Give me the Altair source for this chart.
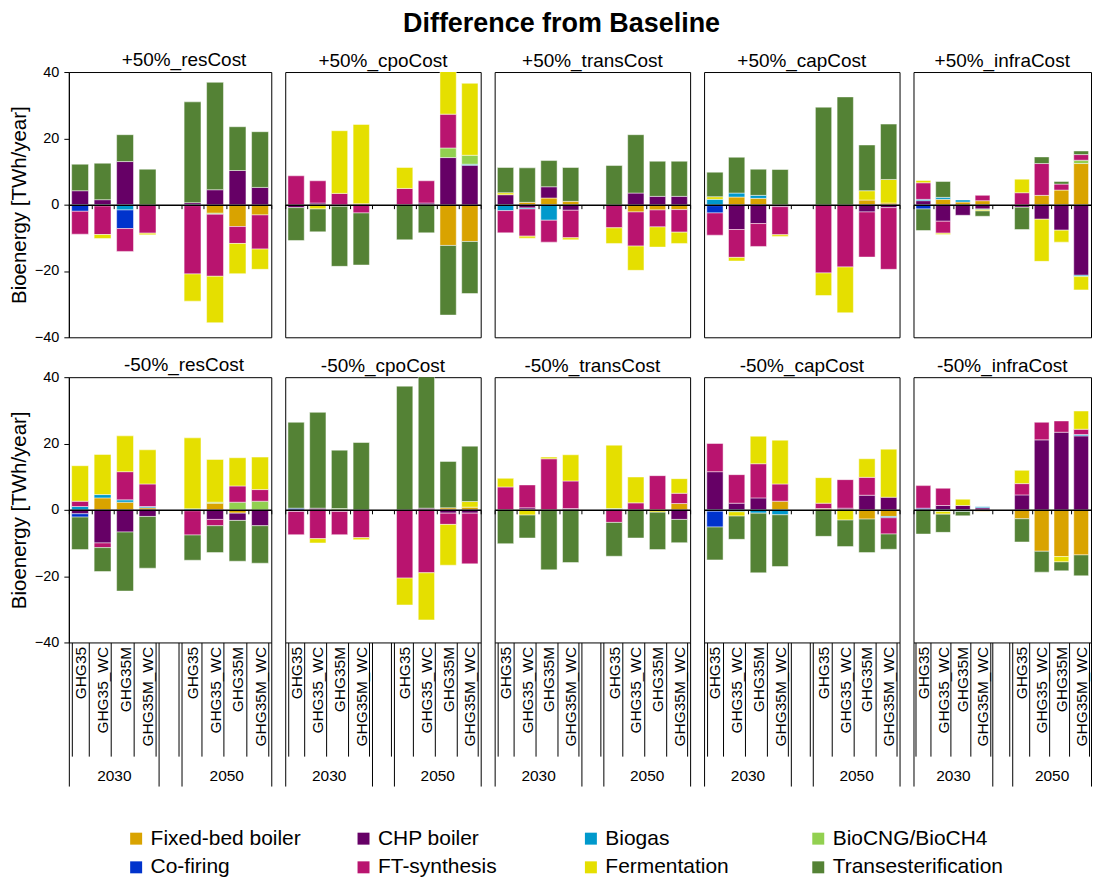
import altair as alt
import pandas as pd

FONT = "Liberation Sans"

# legend order (row-wise, 4 columns)
TECHS = ["Fixed-bed boiler", "CHP boiler", "Biogas", "BioCNG/BioCH4",
         "Co-firing", "FT-synthesis", "Fermentation", "Transesterification"]
COLORS = ["#D9A300", "#660066", "#0099CC", "#92D050",
          "#0033CC", "#B9146F", "#E5DF00", "#548235"]
# stacking order, from the zero line outwards
STACK = ["Fixed-bed boiler", "CHP boiler", "Biogas", "Co-firing",
         "BioCNG/BioCH4", "FT-synthesis", "Fermentation", "Transesterification"]

SCENARIOS = ["GHG35", "GHG35_WC", "GHG35M", "GHG35M_WC"]
YEARS = ["2030", "2050"]
SLOTS = [f"2030|{s}" for s in SCENARIOS] + ["gap"] + [f"2050|{s}" for s in SCENARIOS]
BAR_SLOTS = [s for s in SLOTS if s != "gap"]

PANEL_NAMES = ["+50%_resCost", "+50%_cpoCost", "+50%_transCost", "+50%_capCost", "+50%_infraCost",
               "-50%_resCost", "-50%_cpoCost", "-50%_transCost", "-50%_capCost", "-50%_infraCost"]

# values per technology, 8 bars: 2030 x4 scenarios, 2050 x4 scenarios  [TWh/year]
p50_resCost = {
    "Fixed-bed boiler":    [0, 0, 0, 0, 0, -2.6, -6.6, -3.1],
    "CHP boiler":          [4.2, 1.5, 13.0, 0, 0.6, 4.5, 10.3, 5.2],
    "Biogas":              [0, -0.4, -1.6, 0, -0.3, 0, 0, 0],
    "Co-firing":           [-2.0, 0, -5.6, 0, 0, 0, 0, 0],
    "BioCNG/BioCH4":       [0, 0, 0, 0, 0, -0.3, 0, 0],
    "FT-synthesis":        [-6.9, -8.6, -6.9, -8.6, -20.6, -18.7, -5.1, -10.3],
    "Fermentation":        [0, -1.2, 0, -0.5, -8.2, -14.0, -9.1, -6.1],
    "Transesterification": [8.0, 11.0, 8.1, 10.7, 30.4, 32.4, 13.2, 16.8],
}
p50_cpoCost = {
    "Fixed-bed boiler":    [0, 0, 0, 0, 0, 0, -12.3, -11.1],
    "CHP boiler":          [-0.9, 0.5, -0.5, 0.3, 0, 0.5, 14.2, 11.9],
    "Biogas":              [0, 0, 0, 0, 0, 0, 0, 0.3],
    "Co-firing":           [0, 0, 0, 0, 0, 0, 0, 0],
    "BioCNG/BioCH4":       [0, 0, 0, 0, 0, 0, 2.9, 2.7],
    "FT-synthesis":        [8.7, 6.7, 3.4, -2.5, 4.9, 6.7, 10.2, 0],
    "Fermentation":        [0, -1.3, 18.9, 23.9, 6.3, 0, 15.0, 21.7],
    "Transesterification": [-9.9, -6.9, -18.1, -15.7, -10.6, -8.5, -21.0, -15.7],
}
p50_transCost = {
    "Fixed-bed boiler":    [0, 0.7, 2.0, 1.0, 0, -2.2, -1.6, -1.5],
    "CHP boiler":          [3.0, -1.0, 3.4, -1.7, 0, 3.5, 2.5, 2.5],
    "Biogas":              [-1.8, -0.3, -4.7, 0, 0, 0, 0, 0],
    "Co-firing":           [0, 0, 0, 0, 0, 0, 0, 0],
    "BioCNG/BioCH4":       [0, 0, 0, 0, 0, 0, 0, 0],
    "FT-synthesis":        [-6.7, -8.2, -6.6, -8.3, -7.0, -10.3, -5.1, -6.8],
    "Fermentation":        [0.6, -0.6, 0, -0.6, -4.7, -7.3, -6.1, -3.4],
    "Transesterification": [7.6, 10.4, 7.9, 10.2, 11.8, 17.6, 10.6, 10.6],
}
p50_capCost = {
    "Fixed-bed boiler":    [0, 2.3, 1.9, 0, 0, 0, 1.4, 0.5],
    "CHP boiler":          [-0.3, -7.5, -5.7, -0.6, 0, 0, -2.2, -0.9],
    "Biogas":              [1.6, 1.2, 0.9, 0, 0, 0, 0, 0],
    "Co-firing":           [-2.2, 0, 0, 0, 0, 0, 0, 0],
    "BioCNG/BioCH4":       [0, 0, 0, 0, 0, 0, 0, 0],
    "FT-synthesis":        [-6.7, -8.4, -6.9, -8.5, -20.6, -18.8, -13.6, -18.6],
    "Fermentation":        [0.8, -1.1, 0, -0.5, -6.8, -13.8, 2.8, 7.1],
    "Transesterification": [7.4, 10.8, 7.9, 10.6, 29.4, 32.5, 13.8, 16.7],
}
p50_infraCost = {
    "Fixed-bed boiler":    [0, 1.6, 0.8, 1.2, 0, 2.8, 4.4, 12.4],
    "CHP boiler":          [1.2, -5.0, -3.2, -1.3, -0.8, -4.4, -7.7, -21.3],
    "Biogas":              [0.4, 0.6, 0.6, 0, 0, 0, 0, -0.4],
    "Co-firing":           [-1.3, 0, 0, 0, 0, 0, 0, 0],
    "BioCNG/BioCH4":       [0, 0, 0, -0.3, 0, 0, 0, 1.0],
    "FT-synthesis":        [5.0, -3.6, 0, 1.6, 3.6, 9.6, 1.8, 1.7],
    "Fermentation":        [0.7, -0.4, 0, -0.3, 4.1, -12.7, -3.6, -4.0],
    "Transesterification": [-6.5, 4.8, 0, -1.6, -6.7, 2.0, 0.8, 1.1],
}
m50_resCost = {
    "Fixed-bed boiler":    [0, 3.6, 2.3, 0.6, 0, 2.0, -1.0, 0],
    "CHP boiler":          [-1.2, -10.0, -6.7, -2.0, -0.3, -2.9, -2.2, -4.8],
    "Biogas":              [1.0, 1.0, 0.7, 0.4, 0.3, 0, 0, 0],
    "Co-firing":           [-1.0, 0, 0, 0, 0, 0, 0, 0],
    "BioCNG/BioCH4":       [0, 0, 0, 0, 0, 0.3, 2.3, 2.6],
    "FT-synthesis":        [1.6, -1.4, 8.5, 6.8, -7.3, -1.9, 4.9, 3.5],
    "Fermentation":        [10.7, 12.1, 10.8, 10.3, 21.4, 12.9, 8.5, 9.8],
    "Transesterification": [-9.8, -7.2, -17.8, -15.6, -7.6, -8.1, -12.3, -11.3],
}
m50_cpoCost = {
    "Fixed-bed boiler":    [0, 0, 0, 0, 0, 0, 0.6, 0.8],
    "CHP boiler":          [-0.5, 0.5, -0.5, 0, 0, 0.5, -1.0, -1.0],
    "Biogas":              [0, 0, 0, 0, 0, 0, 0, 0],
    "Co-firing":           [0.5, 0, 0, 0, 0, 0, 0, 0],
    "BioCNG/BioCH4":       [0, 0, 0.4, 0, 0, 0, 0, 0],
    "FT-synthesis":        [-7.0, -8.7, -7.0, -8.4, -20.6, -19.0, -3.4, -15.3],
    "Fermentation":        [0, -1.3, 0, -0.6, -8.1, -14.2, -12.3, 1.7],
    "Transesterification": [25.9, 28.9, 17.6, 20.3, 37.3, 41.0, 14.0, 16.7],
}
m50_transCost = {
    "Fixed-bed boiler":    [0, 0, 0, 0, 0, 0, 0, 1.9],
    "CHP boiler":          [0, 0.6, 0, 0.4, 0, 0, 0, -2.9],
    "Biogas":              [0, 0, 0, 0, 0.4, 0, 0, 0],
    "Co-firing":           [0, 0, 0, 0, 0, 0, 0, 0],
    "BioCNG/BioCH4":       [0, 0, 0, 0, 0, 0, 0, 0],
    "FT-synthesis":        [6.9, 6.9, 15.4, 8.3, -3.8, 2.1, 10.3, 3.1],
    "Fermentation":        [2.6, -1.6, 0.5, 7.9, 19.1, 7.8, -0.7, 4.4],
    "Transesterification": [-10.2, -6.9, -18.1, -15.9, -10.2, -8.5, -11.3, -7.0],
}
m50_capCost = {
    "Fixed-bed boiler":    [0, 0, 0, 2.6, 0.4, 0, -2.8, -2.0],
    "CHP boiler":          [11.5, 2.0, 3.6, 0, 0, 0.5, 4.4, 3.8],
    "Biogas":              [-0.4, -0.6, -1.0, -1.5, 0, 0, 0, -0.4],
    "Co-firing":           [-4.8, 0, 0, 0, 0, 0, 0, 0],
    "BioCNG/BioCH4":       [0, 0, 0, 0, 0, 0, 0, 0],
    "FT-synthesis":        [8.5, 8.6, 10.3, 5.2, 1.6, 8.6, 5.4, -4.9],
    "Fermentation":        [0, -1.3, 8.3, 13.2, 7.7, -3.1, 5.6, 14.5],
    "Transesterification": [-9.9, -7.0, -18.0, -15.6, -8.0, -8.0, -10.1, -4.6],
}
m50_infraCost = {
    "Fixed-bed boiler":    [0, 0, 0, -0.4, -2.7, -12.5, -14.1, -13.6],
    "CHP boiler":          [0, 1.3, 1.3, 0.6, 4.5, 21.1, 23.4, 22.3],
    "Biogas":              [0, -0.5, -0.5, 0.3, 0, 0, 0, 0.4],
    "Co-firing":           [0.5, 0, 0, 0, 0, 0, 0, 0],
    "BioCNG/BioCH4":       [0, 0, 0, 0, 0, 0, 0, 0],
    "FT-synthesis":        [6.8, 5.2, 0, 0, 3.4, 5.3, 3.4, 1.6],
    "Fermentation":        [0, -0.8, 1.9, 0, 4.0, 0, -1.6, 5.5],
    "Transesterification": [-7.3, -5.5, -1.3, 0, -7.0, -6.3, -2.7, -6.3],
}
PANEL_DATA = [p50_resCost, p50_cpoCost, p50_transCost, p50_capCost, p50_infraCost,
              m50_resCost, m50_cpoCost, m50_transCost, m50_capCost, m50_infraCost]

Y_TICKS = [-40, -20, 0, 20, 40]
WIDTHS = [203, 196, 196, 196, 178]
H = 266
Y_SCALE = alt.Scale(domain=[-40, 40], nice=False, zero=False)

LEGEND = alt.Legend(
    orient="none", legendX=57, legendY=758, columns=4, title=None,
    direction="horizontal", symbolType="square", symbolSize=144,
    symbolStrokeWidth=0, labelFontSize=21, labelFont=FONT, labelColor="black",
    labelLimit=300, columnPadding=32, rowPadding=7, gridAlign="all", labelOffset=4,
    padding=0,
)

helper = pd.DataFrame({"q": [0, 9]})


def qlayer(axis, yaxis):
    # invisible helper layer that only carries an extra x axis on a 0..9 slot scale
    return alt.Chart(helper).mark_point(opacity=0).encode(
        x=alt.X("q:Q", scale=alt.Scale(domain=[0, 9], nice=False, zero=False), axis=axis),
        y=alt.YDatum(0, scale=Y_SCALE, axis=yaxis),
    )


def make_panel(idx):
    name = PANEL_NAMES[idx]
    vals = PANEL_DATA[idx]
    first_col = idx % 5 == 0
    bottom_row = idx >= 5
    w = WIDTHS[idx % 5]

    recs = []
    for tech, arr in vals.items():
        for slot, v in zip(BAR_SLOTS, arr):
            if v != 0:
                recs.append({"slot": slot, "tech": tech, "value": v,
                             "ord": STACK.index(tech)})
    df = pd.DataFrame(recs)

    if bottom_row:
        xaxis = alt.Axis(
            orient="bottom", title=None, labelAngle=270,
            labelExpr="datum.label == 'gap' ? '' : split(datum.label, '|')[1]",
            labelFontSize=15.5, labelFont=FONT, labelColor="black", labelLimit=200,
            labelPadding=-110, tickBand="extent", tickSize=114, tickColor="black",
            tickWidth=1, domain=False, grid=False,
        )
    else:
        xaxis = None

    if first_col:
        yaxis = alt.Axis(
            values=Y_TICKS, title="Bioenergy [TWh/year]", grid=False,
            labelFontSize=14.5, labelFont=FONT, labelColor="black", labelPadding=5,
            tickSize=5, tickColor="black", domainColor="black",
            titleFontSize=20.5, titleFont=FONT, titleFontWeight="normal",
            titleColor="black", titlePadding=5,
        )
    else:
        yaxis = None

    bars = alt.Chart(df).mark_bar(
        clip=True, stroke="white", strokeWidth=0.8, strokeOpacity=0.6
    ).encode(
        x=alt.X("slot:N", scale=alt.Scale(domain=SLOTS, paddingInner=0.25, paddingOuter=0.125),
                axis=xaxis),
        y=alt.Y("value:Q", stack="zero", scale=Y_SCALE, axis=yaxis),
        color=alt.Color("tech:N", scale=alt.Scale(domain=TECHS, range=COLORS), legend=LEGEND),
        order=alt.Order("ord:Q", sort="ascending"),
    )

    zero_axis = qlayer(alt.Axis(
        orient="bottom", offset=-H / 2, values=list(range(10)), tickSize=4,
        labels=False, domainColor="black", domainWidth=1.5, tickColor="black",
        title=None, grid=False, zindex=2,
    ), yaxis)
    layers = [bars, zero_axis]
    if bottom_row:
        long_ticks = qlayer(alt.Axis(
            orient="bottom", values=[0, 4, 5, 9], tickSize=144, tickColor="black",
            labels=False, domain=False, title=None, grid=False,
        ), yaxis)
        group_labels = qlayer(alt.Axis(
            orient="bottom", values=[2, 7], ticks=False, domain=False, title=None,
            grid=False, labelExpr="datum.value == 2 ? '2030' : '2050'",
            labelFontSize=15.5, labelFont=FONT, labelColor="black", labelPadding=126,
        ), yaxis)
        layers += [long_ticks, group_labels]

    return alt.layer(*layers).resolve_scale(x="independent").properties(
        width=w, height=H,
        title=alt.TitleParams(name, fontSize=19, font=FONT, fontWeight="normal",
                              color="black", offset=-6 if first_col else 1,
                              anchor="middle", frame="group",
                              dx=14 if first_col else 0),
    )


top = alt.hconcat(*[make_panel(i) for i in range(5)], spacing=14, bounds="flush")
bottom = alt.hconcat(*[make_panel(i) for i in range(5, 10)], spacing=14, bounds="flush")

chart = alt.vconcat(top, bottom, spacing=11).properties(
    title=alt.TitleParams("Difference from Baseline", fontSize=27, font=FONT,
                          fontWeight="bold", color="black", anchor="middle",
                          offset=1, dy=-12, dx=10),
    padding={"left": 0, "top": 0, "right": 0, "bottom": 0},
).configure_view(stroke="black", strokeWidth=1).resolve_scale(color="shared")

chart.save("out.html", embed_options={"renderer": "svg", "actions": False})
